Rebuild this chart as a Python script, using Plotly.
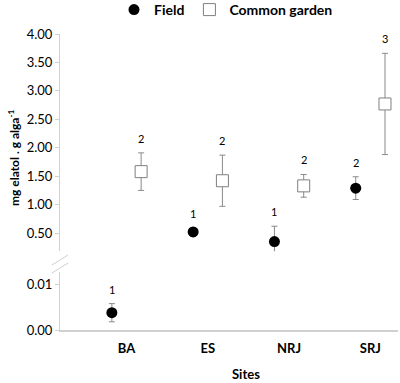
import plotly.graph_objects as go

sites = ["BA", "ES", "NRJ", "SRJ"]
field_mean = [0.0038, 0.52, 0.35, 1.29]
field_err = [0.002, 0.07, 0.27, 0.20]
field_labels = ["1", "1", "1", "2"]
garden_mean = [1.58, 1.42, 1.33, 2.77]
garden_err = [0.33, 0.45, 0.20, 0.89]
garden_labels = ["2", "2", "2", "3"]
upper_ticks = [0.50, 1.00, 1.50, 2.00, 2.50, 3.00, 3.50, 4.00]
lower_ticks = [0.00, 0.01]
break_value = 0.1

FONT = "Lato"
AX = "#d0d0d0"
ERR = "#8a8a8a"
OFF = 0.18

# pixel geometry helpers (plot area: x 60..398, y 34..330)
L, R, T, B = 60, 2, 34, 53
W, H = 400, 383
PW, PH = W - L - R, H - T - B


def px(xp):
    return (xp - L) / PW


def py(yp):
    return (H - B - yp) / PH


fig = go.Figure()

xi = list(range(len(sites)))
fx = [i - OFF for i in xi]
gx = [i + OFF for i in xi]

up_idx = [i for i, v in enumerate(field_mean) if v >= break_value]
lo_idx = [i for i, v in enumerate(field_mean) if v < break_value]

err_style = dict(type="data", color=ERR, thickness=1, width=3)

fig.add_trace(go.Scatter(
    x=[fx[i] for i in up_idx], y=[field_mean[i] for i in up_idx],
    error_y=dict(array=[field_err[i] for i in up_idx], **err_style),
    mode="markers", name="<b>Field</b>",
    marker=dict(symbol="circle", size=11, color="black"),
    xaxis="x", yaxis="y", showlegend=True,
))
fig.add_trace(go.Scatter(
    x=[fx[i] for i in lo_idx], y=[field_mean[i] for i in lo_idx],
    error_y=dict(array=[field_err[i] for i in lo_idx], **err_style),
    mode="markers", name="<b>Field</b>",
    marker=dict(symbol="circle", size=11, color="black"),
    xaxis="x", yaxis="y2", showlegend=False,
))
fig.add_trace(go.Scatter(
    x=gx, y=garden_mean,
    error_y=dict(array=garden_err, **err_style),
    mode="markers", name="<b>Common garden</b>",
    marker=dict(symbol="square", size=12, color="white",
                line=dict(color="#7f7f7f", width=1)),
    xaxis="x", yaxis="y", showlegend=True,
))

annotations = []
for i in xi:
    top = field_mean[i] + field_err[i]
    annotations.append(dict(
        x=fx[i], y=top, xref="x", yref="y2" if field_mean[i] < break_value else "y",
        text=field_labels[i], showarrow=False, yanchor="bottom", yshift=6,
        font=dict(family=FONT, size=11, color="black")))
    annotations.append(dict(
        x=gx[i], y=garden_mean[i] + garden_err[i], xref="x", yref="y",
        text=garden_labels[i], showarrow=False, yanchor="bottom", yshift=6,
        font=dict(family=FONT, size=11, color="black")))

annotations.append(dict(
    x=px(246), y=py(374), xref="paper", yref="paper", text="<b>Sites</b>",
    xanchor="center", yanchor="middle",
    showarrow=False, font=dict(family=FONT, size=13, color="black")))
annotations.append(dict(
    x=px(14), y=py(158), xref="paper", yref="paper",
    text="<b>mg elatol . g alga<sup>-1</sup></b>", textangle=-90,
    xanchor="center", yanchor="middle",
    showarrow=False, font=dict(family=FONT, size=12, color="black")))

shapes = [
    dict(type="rect", xref="paper", yref="paper", x0=px(50), x1=px(70),
         y0=py(272), y1=py(251), fillcolor="white", line=dict(width=0), layer="above"),
    dict(type="line", xref="paper", yref="paper", x0=px(52), y0=py(265),
         x1=px(68), y1=py(255), line=dict(color=AX, width=1)),
    dict(type="line", xref="paper", yref="paper", x0=px(52), y0=py(273),
         x1=px(68), y1=py(263), line=dict(color=AX, width=1)),
]

upper_lo = (261.5 - 251.3) / 56.86
fig.update_layout(
    width=W, height=H,
    margin=dict(l=L, r=R, t=T, b=B, autoexpand=False),
    paper_bgcolor="white", plot_bgcolor="white",
    font=dict(family=FONT, size=13, color="black"),
    xaxis=dict(range=[-0.818, 3.34], tickvals=xi,
               ticktext=["<b>%s</b>" % s for s in sites],
               showline=True, linecolor=AX, linewidth=1.5, ticks="",
               ticklabelstandoff=6,
               showgrid=False, zeroline=False, anchor="y2",
               tickfont=dict(family=FONT, size=13)),
    yaxis=dict(domain=[py(251.3), 1], range=[upper_lo, 4.0],
               tickvals=upper_ticks, ticktext=["%.2f" % v for v in upper_ticks],
               showline=True, linecolor=AX, linewidth=1, ticks="outside",
               tickcolor=AX, ticklen=4, showgrid=False, zeroline=False,
               tickfont=dict(family=FONT, size=13)),
    yaxis2=dict(domain=[0, py(272)], range=[0, (330 - 272) / 4550],
                tickvals=lower_ticks, ticktext=["%.2f" % v for v in lower_ticks],
                showline=True, linecolor=AX, linewidth=1, ticks="outside",
                tickcolor=AX, ticklen=4, showgrid=False, zeroline=False,
                tickfont=dict(family=FONT, size=13)),
    legend=dict(orientation="h", xref="container", yref="container",
                x=114 / W, y=1 - 10 / H, xanchor="left", yanchor="middle",
                font=dict(family=FONT, size=14, color="black"),
                itemclick=False, tracegroupgap=0),
    annotations=annotations,
    shapes=shapes,
)

fig.write_html("out.html", config={"displayModeBar": False},
               post_script="document.body.style.margin='0';document.body.style.overflow='hidden';")
